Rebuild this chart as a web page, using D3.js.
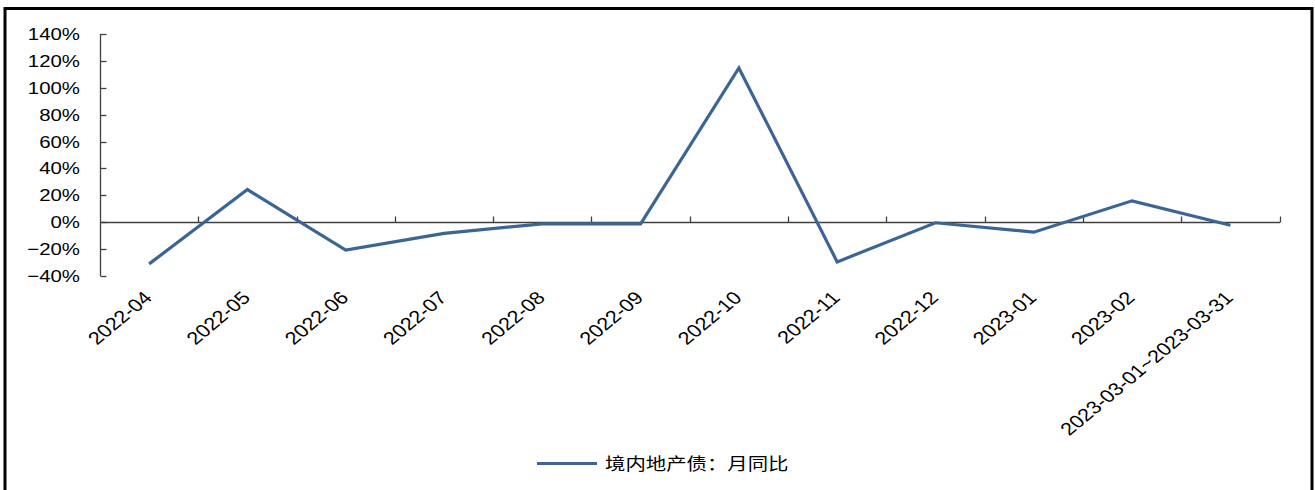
<!DOCTYPE html>
<html>
<head>
<meta charset="utf-8">
<script src="https://cdn.jsdelivr.net/npm/d3@7"></script>
<style>
  html, body { margin: 0; padding: 0; background: #fff; }
  svg { display: block; }
  text { font-family: "Liberation Sans", Arial, sans-serif; fill: #000; }
</style>
</head>
<body>
<svg id="chart" width="1315" height="490"></svg>
<script>
// Month-over-month change of onshore property bonds
const categories = ["2022-04", "2022-05", "2022-06", "2022-07", "2022-08", "2022-09",
                    "2022-10", "2022-11", "2022-12", "2023-01", "2023-02", "2023-03-01~2023-03-31"];
const values = [-0.31, 0.243, -0.208, -0.083, -0.012, -0.012,
                1.147, -0.295, -0.004, -0.074, 0.159, -0.022];
const yTicks = [-0.4, -0.2, 0, 0.2, 0.4, 0.6, 0.8, 1.0, 1.2, 1.4];
const seriesName = "境内地产债：月同比";

const svg = d3.select("#chart");
const lineColor = "#3C6595";
const axisColor = "#404040";
const stretch = 1.2;   // text is drawn slightly wide

// outer frame
svg.append("rect")
  .attr("x", 5).attr("y", 8.5).attr("width", 1307).attr("height", 500)
  .attr("fill", "none").attr("stroke", "#000").attr("stroke-width", 3);

const x = d3.scaleBand().domain(categories).range([100, 1279.5]);
const y = d3.scaleLinear().domain([-0.4, 1.4]).range([276, 34]);
const fmt = d3.format(".0%");

// y axis
const gy = svg.append("g").attr("transform", "translate(100.5,0)");
gy.append("line").attr("y1", y(-0.4)).attr("y2", y(1.4))
  .attr("stroke", axisColor).attr("stroke-width", 1.3);
gy.selectAll("line.tick").data(yTicks).join("line").attr("class", "tick")
  .attr("x1", 0).attr("x2", 6)
  .attr("y1", d => Math.round(y(d)) + 0.5).attr("y2", d => Math.round(y(d)) + 0.5)
  .attr("stroke", axisColor).attr("stroke-width", 1.3);
svg.selectAll("text.ylab").data(yTicks).join("text").attr("class", "ylab")
  .attr("text-anchor", "end")
  .attr("transform", d => `translate(80,${y(d) + 6}) scale(${stretch},1)`)
  .style("font-size", "17px")
  .text(d => fmt(d));

// x axis along zero
const y0 = Math.round(y(0)) + 0.5;
svg.append("line").attr("x1", 100).attr("x2", 1280).attr("y1", y0).attr("y2", y0)
  .attr("stroke", axisColor).attr("stroke-width", 1.3);
const bounds = categories.map(c => x(c) + x.bandwidth());
svg.selectAll("line.xtick").data(bounds).join("line").attr("class", "xtick")
  .attr("x1", d => Math.round(d) + 0.5).attr("x2", d => Math.round(d) + 0.5)
  .attr("y1", y0).attr("y2", y0 - 6)
  .attr("stroke", axisColor).attr("stroke-width", 1.3);

// category labels, rotated
svg.selectAll("text.xlab").data(categories).join("text").attr("class", "xlab")
  .attr("text-anchor", "end")
  .attr("transform", d => `translate(${x(d) + x.bandwidth() / 2 + 4},299) scale(${stretch},1) rotate(-45)`)
  .style("font-size", "18px")
  .text(d => d);

// series line
const line = d3.line()
  .x((d, i) => x(categories[i]) + x.bandwidth() / 2)
  .y(d => y(d));
svg.append("path").datum(values)
  .attr("d", line)
  .attr("fill", "none").attr("stroke", lineColor).attr("stroke-width", 3.2)
  .attr("stroke-linejoin", "miter");

// legend
svg.append("line").attr("x1", 537).attr("x2", 597).attr("y1", 463.5).attr("y2", 463.5)
  .attr("stroke", lineColor).attr("stroke-width", 3.2);
svg.append("text")
  .attr("transform", `translate(605,470) scale(${stretch},1)`)
  .style("font-family", "'Noto Sans CJK SC', sans-serif")
  .style("font-size", "17px")
  .text(seriesName);
</script>
</body>
</html>
